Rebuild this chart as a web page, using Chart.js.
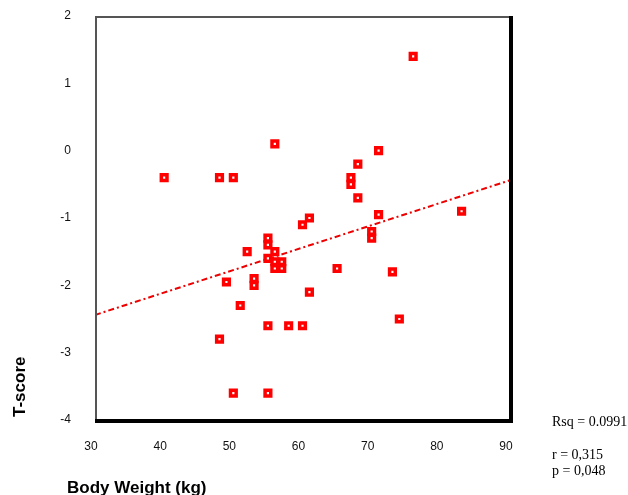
<!DOCTYPE html>
<html>
<head>
<meta charset="utf-8">
<script src="https://cdn.jsdelivr.net/npm/chart.js@4/dist/chart.umd.min.js"></script>
<style>
    html, body { margin: 0; padding: 0; background: #fff; }
    #wrap { width: 628px; height: 495px; }
</style>
</head>
<body>
<div id="wrap"><canvas id="scatterChart" width="628" height="495"></canvas></div>
<script>
// Body weight vs T-score
const weightKg = [76, 56, 71, 68, 67, 67, 68, 40, 48, 50,
                  71, 83, 61, 60, 70, 70, 55, 55, 56, 52,
                  55, 56, 57, 56, 57, 65, 73, 53, 49, 53,
                  61, 51, 55, 58, 60, 74, 48, 50, 55];
const tScore = [1.4, 0.1, 0.0, -0.2, -0.4, -0.5, -0.7, -0.4, -0.4, -0.4,
                -0.95, -0.9, -1.0, -1.1, -1.2, -1.3, -1.3, -1.4, -1.5, -1.5,
                -1.6, -1.65, -1.65, -1.75, -1.75, -1.75, -1.8, -1.9, -1.95, -2.0,
                -2.1, -2.3, -2.6, -2.6, -2.6, -2.5, -2.8, -3.6, -3.6];

// Fitted line endpoints
const fitWeight = [30, 90];
const fitScore = [-2.44, -0.44];

const xTickValues = [30, 40, 50, 60, 70, 80, 90];
const yTickValues = [-4, -3, -2, -1, 0, 1, 2];

const statLines = ['Rsq = 0.0991', '', 'r = 0,315', 'p = 0,048'];

const tickFont = { family: '"Liberation Sans", Arial, sans-serif', size: 12 };

// Frame and the free-standing labels
const framePlugin = {
    id: 'frame',
    afterDraw(chart) {
        const ctx = chart.ctx;
        const a = chart.chartArea;
        ctx.save();
        // thin grey top / left
        ctx.strokeStyle = '#555';
        ctx.lineWidth = 2;
        ctx.beginPath();
        ctx.moveTo(a.left + 1, a.bottom);
        ctx.lineTo(a.left + 1, a.top + 1);
        ctx.lineTo(a.right, a.top + 1);
        ctx.stroke();
        // heavy black right / bottom
        ctx.strokeStyle = '#000';
        ctx.lineWidth = 4;
        ctx.beginPath();
        ctx.moveTo(a.right + 1, a.top);
        ctx.lineTo(a.right + 1, a.bottom + 1);
        ctx.lineTo(a.left, a.bottom + 1);
        ctx.stroke();

        ctx.fillStyle = '#000';
        ctx.font = 'bold 17px "Liberation Sans", Arial, sans-serif';
        ctx.textBaseline = 'alphabetic';
        ctx.textAlign = 'left';
        ctx.fillText('Body Weight (kg)', 67, 493);

        ctx.save();
        ctx.translate(25, 417);
        ctx.rotate(-Math.PI / 2);
        ctx.fillText('T-score', 0, 0);
        ctx.restore();

        ctx.font = '14px "Liberation Serif", "Times New Roman", serif';
        const baselines = [426, 442, 459, 475];
        statLines.forEach((t, i) => {
            if (t) ctx.fillText(t, 552, baselines[i]);
        });
        ctx.restore();
    }
};

const points = weightKg.map((w, i) => ({ x: w, y: tScore[i] }));
const fitPoints = fitWeight.map((w, i) => ({ x: w, y: fitScore[i] }));

new Chart(document.getElementById('scatterChart'), {
    type: 'scatter',
    data: {
        datasets: [
            {
                label: 'T-score',
                data: points,
                pointStyle: 'rect',
                pointRadius: 4,
                pointHoverRadius: 4,
                backgroundColor: '#ffffff',
                borderColor: '#ff0000',
                borderWidth: 3.5,
                order: 1
            },
            {
                label: 'Fit',
                type: 'line',
                data: fitPoints,
                showLine: true,
                borderColor: '#ee0000',
                borderWidth: 2,
                borderDash: [6, 3, 2, 3],
                pointRadius: 0,
                fill: false,
                order: 2
            }
        ]
    },
    options: {
        responsive: false,
        animation: false,
        events: [],
        layout: {
            padding: { top: 16, right: 118, left: 0, bottom: 0 }
        },
        plugins: {
            legend: { display: false },
            tooltip: { enabled: false }
        },
        scales: {
            x: {
                type: 'linear',
                min: 30,
                max: 90,
                afterBuildTicks: s => { s.ticks = xTickValues.map(v => ({ value: v })); },
                afterFit: s => { s.height = 75; },
                grid: { display: false, drawTicks: false },
                border: { display: false },
                ticks: {
                    color: '#111',
                    font: tickFont,
                    padding: 19,
                    labelOffset: -4,
                    maxRotation: 0
                }
            },
            y: {
                type: 'linear',
                min: -4,
                max: 2,
                afterBuildTicks: s => { s.ticks = yTickValues.map(v => ({ value: v })); },
                afterFit: s => {
                    s.width = 95;
                    s.paddingTop = 0;
                    s.paddingBottom = 0;
                },
                grid: { display: false, drawTicks: false },
                border: { display: false },
                ticks: {
                    color: '#111',
                    font: tickFont,
                    padding: 24
                }
            }
        }
    },
    plugins: [framePlugin]
});
</script>
</body>
</html>
